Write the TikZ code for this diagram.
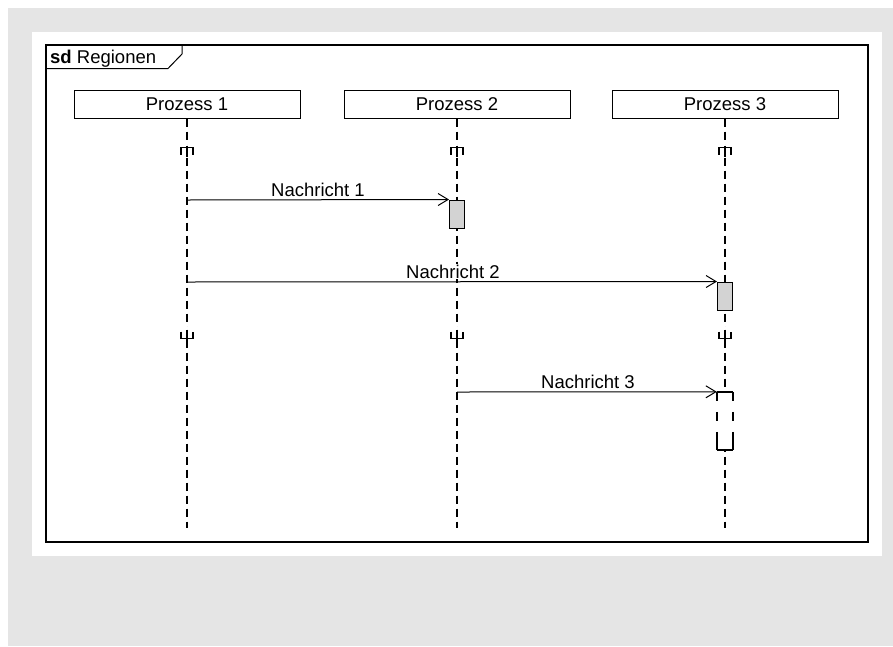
\documentclass[tikz,border=0pt]{standalone}
\usepackage{fontspec}
\setmainfont{Liberation Sans}
\usetikzlibrary{arrows.meta}
\definecolor{pagegrey}{RGB}{229,229,229}
\definecolor{actfill}{RGB}{211,211,211}
\newcommand{\diagfont}{\fontsize{18.5}{22}\selectfont}
\tikzset{
  headbox/.style={draw, line width=1pt, fill=white, minimum width=226pt, minimum height=28pt,
    inner sep=0pt, font=\diagfont},
  lifeline/.style={line width=2pt, dash pattern=on 8pt off 5pt},
  actbox/.style={draw, line width=1pt, fill=actfill, minimum width=15pt, minimum height=28pt, inner sep=0pt},
  msg/.style={line width=1pt, -{Straight Barb[length=10pt,width=12pt,line width=1pt]}},
  msglabel/.style={font=\diagfont, inner sep=1pt, fill=white, anchor=base},
  regstart/.pic={\draw[line width=1.2pt] (-6,7) -- (-6,0) -- (6,0) -- (6,7);
                 \draw[line width=2pt] (0,-2) -- (0,9);},
  regend/.pic={\draw[line width=1.2pt] (-6,-7) -- (-6,0) -- (6,0) -- (6,-7);
               \draw[line width=2pt] (0,-9) -- (0,2);},
}
\begin{document}
\begin{tikzpicture}[x=1pt, y=-1pt]
  \useasboundingbox (0,0) rectangle (893,646);
  % page background and panel
  \fill[pagegrey] (8,8) rectangle (893,646);
  \fill[white] (32,32) rectangle (882,556);

  % interaction frame with its name tab
  \draw[line width=1.5pt] (46,45) rectangle (868,542);
  \draw[line width=1pt] (46,68.5) -- (168,68.5) -- (182,54) -- (182,45);
  \node[anchor=base west, inner sep=0pt, font=\diagfont] (title) at (50,63.5)
    {\textbf{sd} Regionen};

  % lifeline heads
  \node[headbox] (p1) at (187,104) {Prozess 1};
  \node[headbox] (p2) at (457,104) {Prozess 2};
  \node[headbox] (p3) at (725,104) {Prozess 3};

  % lifeline ends
  \coordinate (e1) at (187,528);
  \coordinate (e2) at (457,528);
  \coordinate (e3) at (725,528);
  \draw[lifeline] (p1.south) -- (e1);
  \draw[lifeline] (p2.south) -- (e2);
  \draw[lifeline] (p3.south) -- (e3);

  % coordination region markers
  \foreach \x in {187,457,725} {
    \fill[white] (\x-1.5,145) rectangle (\x+1.5,157);
    \pic at (\x,147.5) {regstart};
    \fill[white] (\x-1.5,327) rectangle (\x+1.5,340);
    \pic at (\x,338.5) {regend};
  }

  % activations
  \node[actbox] (a1) at (457,214) {};
  \node[actbox] (a2) at (725,296) {};

  % dashed execution occurrence on Prozess 3
  \fill[white] (717,392) rectangle (733,450);
  \node[minimum width=16pt, minimum height=58pt, inner sep=0pt] (a3) at (725,421) {};
  \draw[line width=1.5pt] (a3.north west) -- (a3.north east);
  \draw[line width=1.5pt] (a3.south west) -- (a3.south east);
  \draw[line width=2pt, dash pattern=on 9pt off 11pt] (a3.north west) -- (a3.south west);
  \draw[line width=2pt, dash pattern=on 9pt off 11pt] (a3.north east) -- (a3.south east);
  \draw[line width=2pt] (a3.south west) -- ([yshift=10pt]a3.south west);
  \draw[line width=2pt] (a3.south east) -- ([yshift=10pt]a3.south east);

  % message labels (they mask the lifelines they cross)
  \node[msglabel] (l1) at (318,196) {Nachricht 1};
  \node[msglabel] (l2) at (453,278) {Nachricht 2};
  \node[msglabel] (l3) at (588,388) {Nachricht 3};

  % messages
  \coordinate (s1) at (187,200);
  \coordinate (s2) at (187,282);
  \coordinate (s3) at (457,392);
  \draw[msg] (s1) -- (a1.north west);
  \draw[msg] (s2) -- (a2.north west);
  \draw[msg] (s3) -- (a3.north west);
\end{tikzpicture}
\end{document}
